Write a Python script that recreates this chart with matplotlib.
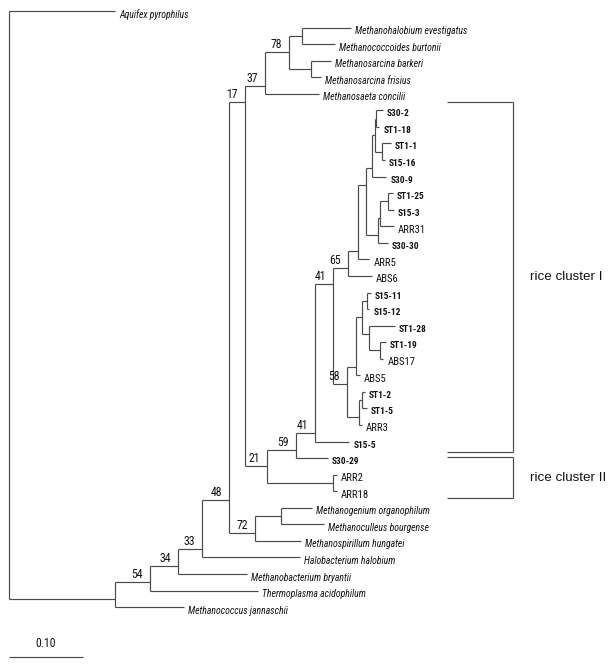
import matplotlib
matplotlib.use("Agg")
import matplotlib.pyplot as plt
from matplotlib import font_manager, transforms
from matplotlib.textpath import TextPath
from matplotlib.font_manager import FontProperties

# ---------------- data ----------------
node_names = [
    "Aquifex pyrophilus", "Archaea",
    "n54", "Methanococcus jannaschii",
    "n34", "Thermoplasma acidophilum",
    "n33", "Methanobacterium bryantii",
    "n48", "Halobacterium halobium",
    "n17", "n72",
    "n37", "n21",
    "n78", "Methanosaeta concilii",
    "nMM", "nMS",
    "Methanohalobium evestigatus", "Methanococcoides burtonii",
    "Methanosarcina barkeri", "Methanosarcina frisius",
    "n59", "nARR",
    "n41b", "S30-29",
    "n41a", "S15-5",
    "n65", "n58",
    "nR1", "ABS6",
    "nR2", "ARR5",
    "nA", "nB0",
    "nA3", "S30-9",
    "nA1", "nA2",
    "S30-2", "ST1-18",
    "ST1-1", "S15-16",
    "nB1", "S30-30",
    "nB2", "ARR31",
    "ST1-25", "S15-3",
    "nC1", "nC2",
    "nD", "ABS5",
    "nD1", "nD2",
    "S15-11", "S15-12",
    "ST1-28", "nD3",
    "ST1-19", "ABS17",
    "nE", "ARR3",
    "ST1-2", "ST1-5",
    "ARR2", "ARR18",
    "nMG", "Methanospirillum hungatei",
    "Methanogenium organophilum", "Methanoculleus bourgense",
]
parent_names = [
    "root", "root",
    "Archaea", "Archaea",
    "n54", "n54",
    "n34", "n34",
    "n33", "n33",
    "n48", "n48",
    "n17", "n17",
    "n37", "n37",
    "n78", "n78",
    "nMM", "nMM",
    "nMS", "nMS",
    "n21", "n21",
    "n59", "n59",
    "n41b", "n41b",
    "n41a", "n41a",
    "n65", "n65",
    "nR1", "nR1",
    "nR2", "nR2",
    "nA", "nA",
    "nA3", "nA3",
    "nA1", "nA1",
    "nA2", "nA2",
    "nB0", "nB0",
    "nB1", "nB1",
    "nB2", "nB2",
    "n58", "n58",
    "nC1", "nC1",
    "nD", "nD",
    "nD1", "nD1",
    "nD2", "nD2",
    "nD3", "nD3",
    "nC2", "nC2",
    "nE", "nE",
    "nARR", "nARR",
    "n72", "n72",
    "nMG", "nMG",
]
branch_lengths = [
    0.143, 0.143,
    0.047, 0.093,
    0.039, 0.146,
    0.032, 0.093,
    0.036, 0.132,
    0.022, 0.036,
    0.027, 0.030,
    0.032, 0.073,
    0.018, 0.030,
    0.066, 0.045,
    0.027, 0.014,
    0.039, 0.089,
    0.026, 0.043,
    0.024, 0.046,
    0.020, 0.019,
    0.014, 0.032,
    0.011, 0.015,
    0.008, 0.015,
    0.004, 0.019,
    0.0015, 0.009,
    0.009, 0.004,
    0.012, 0.004,
    0.003, 0.014,
    0.011, 0.019,
    0.007, 0.008,
    0.012, 0.016,
    0.008, 0.005,
    0.007, 0.009,
    0.005, 0.003,
    0.035, 0.016,
    0.007, 0.004,
    0.004, 0.004,
    0.004, 0.007,
    0.005, 0.005,
    0.035, 0.062,
    0.041, 0.057,
]
support_nodes = ["n78", "n37", "n17", "n21", "n59", "n41b", "n41a", "n65", "n58",
                 "n48", "n72", "n33", "n34", "n54"]
support_values = [78, 37, 17, 21, 59, 41, 41, 65, 58, 48, 72, 33, 34, 54]

bold_clones = ["S30-2", "ST1-18", "ST1-1", "S15-16", "S30-9", "ST1-25", "S15-3",
               "S30-30", "S15-11", "S15-12", "ST1-28", "ST1-19", "ST1-2", "ST1-5",
               "S15-5", "S30-29"]
plain_clones = ["ARR31", "ARR5", "ABS6", "ABS17", "ABS5", "ARR3", "ARR2", "ARR18"]

cluster_labels = ["rice cluster I", "rice cluster II"]
cluster_first = ["S30-2", "S30-29"]
cluster_last = ["S15-5", "ARR18"]

scale_value = 0.10

# ---------------- fonts ----------------
DPI = 100
available = {f.name for f in font_manager.fontManager.ttflist}
narrow_candidates = ["Liberation Sans Narrow", "Arial Narrow", "Nimbus Sans Narrow",
                     "Roboto Condensed", "Open Sans Condensed", "Liberation Sans"]
narrow = next(f for f in narrow_candidates if f in available or f == "Liberation Sans")
regular = "Liberation Sans"


def fit_size(text, target_px, **props):
    fp = FontProperties(family=narrow, **props)
    w = TextPath((0, 0), text, size=10, prop=fp).get_extents().width
    return 10 * target_px / (w * DPI / 72.0)


size_italic = fit_size("Methanohalobium evestigatus", 112, style="italic")
size_bold = fit_size("ST1-28", 27, weight="bold")
size_plain = fit_size("ARR18", 27)
size_num = fit_size("78", 10.5)

# ---------------- build tree ----------------
children = {}
blen = {}
parent_of = {}
for n, p, b in zip(node_names, parent_names, branch_lengths):
    children.setdefault(p, []).append(n)
    blen[n] = b
    parent_of[n] = p

xpos = {"root": 0.0}
leaves = []


def walk(n):
    for c in children.get(n, []):
        xpos[c] = xpos[n] + blen[c]
        if c in children:
            walk(c)
        else:
            leaves.append(c)


walk("root")
row = {leaf: i for i, leaf in enumerate(leaves)}
span = {}


def layout(n):
    if n not in children:
        span[n] = (row[n], row[n])
        return
    for c in children[n]:
        layout(c)
    first = span[children[n][0]]
    second = span[children[n][1]]
    span[n] = (first[0], span[children[n][-1]][1])
    row[n] = (first[1] + second[0]) / 2.0


layout("root")

# ---------------- figure ----------------
W, H = 610, 668
fig = plt.figure(figsize=(W / DPI, H / DPI), dpi=DPI)
ax = fig.add_axes([0, 0, 1, 1])
px_per_unit = 740.0
px_per_row = 16.56
x0_px, y0_px = 9.0, 11.0
ax.set_xlim(-x0_px / px_per_unit, (W - x0_px) / px_per_unit)
ax.set_ylim((H - y0_px) / px_per_row, -y0_px / px_per_row)
ax.axis("off")

lc = "#4a4a4a"
lw = 0.85
tc = "#111111"
for n in node_names:
    ax.hlines(row[n], xpos[parent_of[n]], xpos[n], color=lc, lw=lw)
for n, ch in children.items():
    ax.vlines(xpos[n], row[ch[0]], row[ch[-1]], color=lc, lw=lw)

leaf_tr = transforms.offset_copy(ax.transData, fig=fig, x=4, y=-3.5, units="dots")
for leaf in leaves:
    if leaf in bold_clones:
        kw = dict(fontweight="bold", fontstyle="normal", fontsize=size_bold)
    elif leaf in plain_clones:
        kw = dict(fontweight="normal", fontstyle="normal", fontsize=size_plain)
    else:
        kw = dict(fontweight="normal", fontstyle="italic", fontsize=size_italic)
    ax.text(xpos[leaf], row[leaf], leaf, transform=leaf_tr, ha="left", va="center",
            family=narrow, color=tc, **kw)

sup_tr = transforms.offset_copy(ax.transData, fig=fig, x=-7, y=1, units="dots")
for n, v in zip(support_nodes, support_values):
    ax.text(xpos[n], row[n], str(v), transform=sup_tr, ha="right", va="bottom",
            family=narrow, fontsize=size_num, color=tc)

# cluster brackets
bx0 = (447 - x0_px) / px_per_unit
bx1 = (513 - x0_px) / px_per_unit
pads = [(-0.5, 0.62), (-0.05, 0.42)]
for lab, f, l, (pt, pb) in zip(cluster_labels, cluster_first, cluster_last, pads):
    top = row[f] + pt
    bot = row[l] + pb
    ax.hlines([top, bot], bx0, bx1, color=lc, lw=lw)
    ax.vlines(bx1, top, bot, color=lc, lw=lw)
    ax.text(bx1 + 17 / px_per_unit, (top + bot) / 2, lab, ha="left", va="center",
            family=regular, fontsize=9.6, color=tc)

# scale bar
sb_row = (657 - y0_px) / px_per_row
ax.hlines(sb_row, 0, scale_value, color=lc, lw=lw)
ax.text(scale_value / 2, sb_row - 0.45, f"{scale_value:.2f}", ha="center", va="bottom",
        family=narrow, fontsize=size_num, color=tc)

fig.savefig("out.png", dpi=DPI, facecolor="white")
